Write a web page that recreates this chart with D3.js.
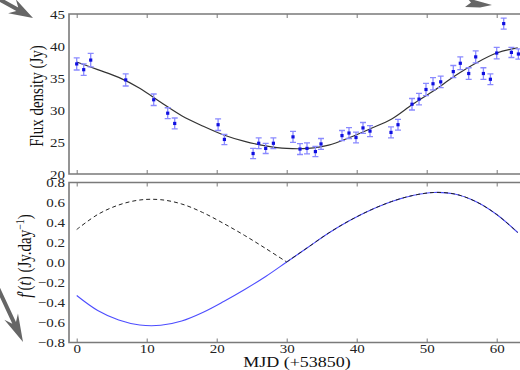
<!DOCTYPE html>
<html>
<head>
<meta charset="utf-8">
<script src="https://cdn.jsdelivr.net/npm/d3@7"></script>
<style>
  html, body { margin: 0; padding: 0; background: #fff; }
  svg { display: block; }
  svg text { font-family: "Liberation Serif", "Times New Roman", Times, "DejaVu Serif", serif; }
</style>
</head>
<body>
<div id="chart"></div>
<script>
// Observed flux densities (MJD - 53850, Jy, 1-sigma error)
const obsDay = [0, 1, 2, 7, 11, 13, 14, 20.2, 21.1, 25.2, 26, 27, 28.1, 30.9, 31.9, 32.9, 34.1, 34.9,
  37.9, 38.9, 39.9, 40.9, 41.9, 44.9, 45.9, 47.9, 48.9, 49.9, 50.9, 52, 53.8, 54.8, 56, 57, 58.1, 59.1,
  60, 61, 62.1, 63.1];
const obsFlux = [37.2, 36.3, 37.8, 34.7, 31.6, 29.5, 27.9, 27.7, 25.4, 23.2, 24.8, 24.0, 24.8, 25.8,
  23.9, 24.0, 23.5, 24.7, 26.0, 26.4, 25.7, 27.2, 26.7, 26.5, 27.7, 30.9, 31.7, 33.2, 34.1, 34.4, 36.0,
  37.3, 35.7, 38.3, 35.7, 34.8, 38.9, 43.5, 39.0, 38.75];
const obsErr = [0.95, 0.9, 1.05, 0.95, 0.9, 0.85, 0.85, 0.9, 0.8, 0.8, 0.85, 0.8, 0.85, 0.85, 0.85,
  0.85, 0.8, 0.85, 0.8, 0.85, 0.85, 0.85, 0.85, 0.85, 0.85, 0.9, 0.9, 0.95, 0.95, 0.9, 0.95, 1.0, 0.9,
  0.95, 0.9, 0.85, 0.9, 0.85, 0.8, 0.8];

const modelDay = [0, 3, 6, 9, 12, 15, 18, 21, 24, 27, 30, 33, 36, 39, 42, 45, 48, 51, 54, 57, 60, 63];
const modelFlux = [37.5, 36.3, 35.1, 33.4, 31.2, 29.1, 27.5, 26.1, 25.1, 24.4, 24.0, 24.0, 24.5, 25.7,
  27.1, 28.6, 30.9, 33.0, 35.3, 37.3, 38.9, 39.7];
const derivSolid = [-0.33, -0.48, -0.575, -0.625, -0.628, -0.585, -0.50, -0.39, -0.27, -0.14, 0.005,
  0.15, 0.295, 0.42, 0.525, 0.61, 0.67, 0.70, 0.685, 0.61, 0.48, 0.30];
const derivDashed = [0.33, 0.48, 0.575, 0.625, 0.628, 0.585, 0.50, 0.39, 0.27, 0.14, 0.005,
  0.15, 0.295, 0.42, 0.525, 0.61, 0.67, 0.70, 0.685, 0.61, 0.48, 0.30];

const xTicks = [0, 10, 20, 30, 40, 50, 60];
const topTicks = [20, 25, 30, 35, 40, 45];
const botTicks = [-0.8, -0.6, -0.4, -0.2, 0.0, 0.2, 0.4, 0.6, 0.8];

const W = 520, H = 370;
const left = 69, right = 521.2;
const top1 = 14, bot1 = 174, top2 = 182.5, bot2 = 342.5;
const sx = 1.2; // horizontal stretch of the text in the picture
const spine = "#7a7a7a";
const serif = "'Liberation Serif', 'Times New Roman', Times, 'DejaVu Serif', serif";

const svg = d3.select("#chart").append("svg").attr("width", W).attr("height", H);
svg.append("rect").attr("width", W).attr("height", H).attr("fill", "#fff");

const x = d3.scaleLinear().domain([-1.1, 63.5]).range([left, right]);
const yTop = d3.scaleLinear().domain([20, 45]).range([bot1, top1]);
const yBot = d3.scaleLinear().domain([-0.8, 0.8]).range([bot2, top2]);

svg.append("defs").append("clipPath").attr("id", "clip")
  .append("rect").attr("x", left).attr("y", 0).attr("width", right - left).attr("height", H);

// inward x ticks on top and bottom of both panels
function xTickAxis(y, dir) {
  const ax = (dir > 0 ? d3.axisBottom(x) : d3.axisTop(x)).tickValues(xTicks).tickSize(-4).tickFormat("");
  const g = svg.append("g").attr("transform", `translate(0,${y})`).call(ax);
  g.attr("font-family", serif);
  g.select(".domain").remove();
  g.selectAll("line").attr("stroke", spine).attr("stroke-width", 1);
  return g;
}
xTickAxis(top1, -1);
xTickAxis(bot1, 1);
xTickAxis(top2, -1);
const xb = xTickAxis(bot2, 1);
xb.selectAll(".tick text")
  .text(d => d)
  .attr("y", 0).attr("dy", 0)
  .attr("transform", `translate(0,10.8) scale(${sx},1)`)
  .attr("font-size", 12.5)
  .attr("font-family", serif)
  .attr("fill", "#222");

// y tick labels
function yLabels(scale, ticks, fmt) {
  const ax = d3.axisLeft(scale).tickValues(ticks).tickSize(0).tickFormat(fmt);
  const g = svg.append("g").attr("transform", `translate(${left},0)`).call(ax);
  g.attr("font-family", serif);
  g.select(".domain").remove();
  g.selectAll(".tick text")
    .attr("x", -4 / sx).attr("dy", "0.34em")
    .attr("transform", `scale(${sx},1)`)
    .attr("font-size", 12.5)
    .attr("font-family", serif)
    .attr("fill", "#222");
}
yLabels(yTop, topTicks, d3.format("d"));
yLabels(yBot, botTicks, d3.format(".1f"));

// spines (right side lies outside the picture)
[[top1, bot1], [top2, bot2]].forEach(([a, b]) => {
  svg.append("path")
    .attr("d", `M${right},${a}H${left}V${b}H${right}`)
    .attr("fill", "none").attr("stroke", spine).attr("stroke-width", 1.6);
});

const plot = svg.append("g").attr("clip-path", "url(#clip)");

// top panel: model
const modelLine = d3.line().x((d, i) => x(modelDay[i])).y(d => yTop(d)).curve(d3.curveCatmullRom);
plot.append("path").datum(modelFlux).attr("d", modelLine)
  .attr("fill", "none").attr("stroke", "#333").attr("stroke-width", 1.2);

// error bars
const obs = obsDay.map((d, i) => ({ t: d, f: obsFlux[i], e: obsErr[i] }));
const eb = plot.append("g").attr("stroke", "#8a8aff").attr("stroke-width", 1.3).attr("fill", "none");
eb.selectAll("path").data(obs).join("path")
  .attr("d", d => {
    const cx = x(d.t), y0 = yTop(d.f - d.e), y1 = yTop(d.f + d.e);
    return `M${cx},${y0}V${y1}M${cx - 3},${y0}h6M${cx - 3},${y1}h6`;
  });
plot.append("g").selectAll("rect").data(obs).join("rect")
  .attr("x", d => x(d.t) - 1.6).attr("y", d => yTop(d.f) - 1.6)
  .attr("width", 3.2).attr("height", 3.2).attr("fill", "#1010e0");

// bottom panel: derivative (solid) and its absolute value (dashed, kinked at the zero crossing)
const pts = vals => vals.map((v, i) => [x(modelDay[i]), yBot(v)]);
const smooth = d3.line().curve(d3.curveCatmullRom);
plot.append("path").attr("d", smooth(pts(derivSolid)))
  .attr("fill", "none").attr("stroke", "#4d4dff").attr("stroke-width", 1.1);
const dashPts = pts(derivDashed);
const cross = derivSolid.findIndex(v => v > 0);
[dashPts.slice(0, cross + 1), dashPts.slice(cross)].forEach(seg => {
  plot.append("path").attr("d", smooth(seg))
    .attr("fill", "none").attr("stroke", "#222").attr("stroke-width", 1)
    .attr("stroke-dasharray", "4,3");
});

// axis titles
svg.append("text")
  .attr("transform", `translate(43,96) scale(${sx},1) rotate(-90)`)
  .attr("text-anchor", "middle").attr("font-size", 15).attr("fill", "#111")
  .attr("font-family", serif)
  .text("Flux density (Jy)");

const yl = svg.append("text")
  .attr("transform", `translate(31,256) scale(${sx},1) rotate(-90)`)
  .attr("text-anchor", "middle").attr("font-size", 15).attr("fill", "#111")
  .attr("font-family", serif);
yl.append("tspan").attr("font-style", "italic").text("f");
yl.append("tspan").text("\u2032(");
yl.append("tspan").attr("font-style", "italic").text("t");
yl.append("tspan").text(") (Jy.day");
yl.append("tspan").attr("font-size", 10).attr("dy", "-0.55em").text("\u22121");
yl.append("tspan").attr("dy", "0.37em").text(")");

svg.append("text")
  .attr("transform", `translate(297,367) scale(${sx},1)`)
  .attr("text-anchor", "middle").attr("font-size", 15).attr("fill", "#111")
  .attr("font-family", serif)
  .text("MJD (+53850)");

// grey annotation arrows at the picture edges
function arrow(x0, y0, x1, y1, hl, hw, sw) {
  const dx = x1 - x0, dy = y1 - y0, L = Math.hypot(dx, dy);
  const ux = dx / L, uy = dy / L, px = -uy, py = ux;
  const bx = x1 - ux * hl, by = y1 - uy * hl;
  const nx = bx + ux * hl * 0.25, ny = by + uy * hl * 0.25;
  const p = [
    [x0 + px * sw, y0 + py * sw], [nx + px * sw, ny + py * sw],
    [bx + px * hw, by + py * hw], [x1, y1],
    [bx - px * hw, by - py * hw], [nx - px * sw, ny - py * sw],
    [x0 - px * sw, y0 - py * sw]
  ];
  svg.append("path").attr("d", "M" + p.join("L") + "Z").attr("fill", "#666");
}
arrow(-12, -7, 33, 18, 24, 8, 2);
arrow(-4, 284, 23, 342, 28, 7.5, 2);
svg.append("path").attr("d", "M465,7L471,2.5L467,-2L492,5L480,7.5Z").attr("fill", "#666");
</script>
</body>
</html>
